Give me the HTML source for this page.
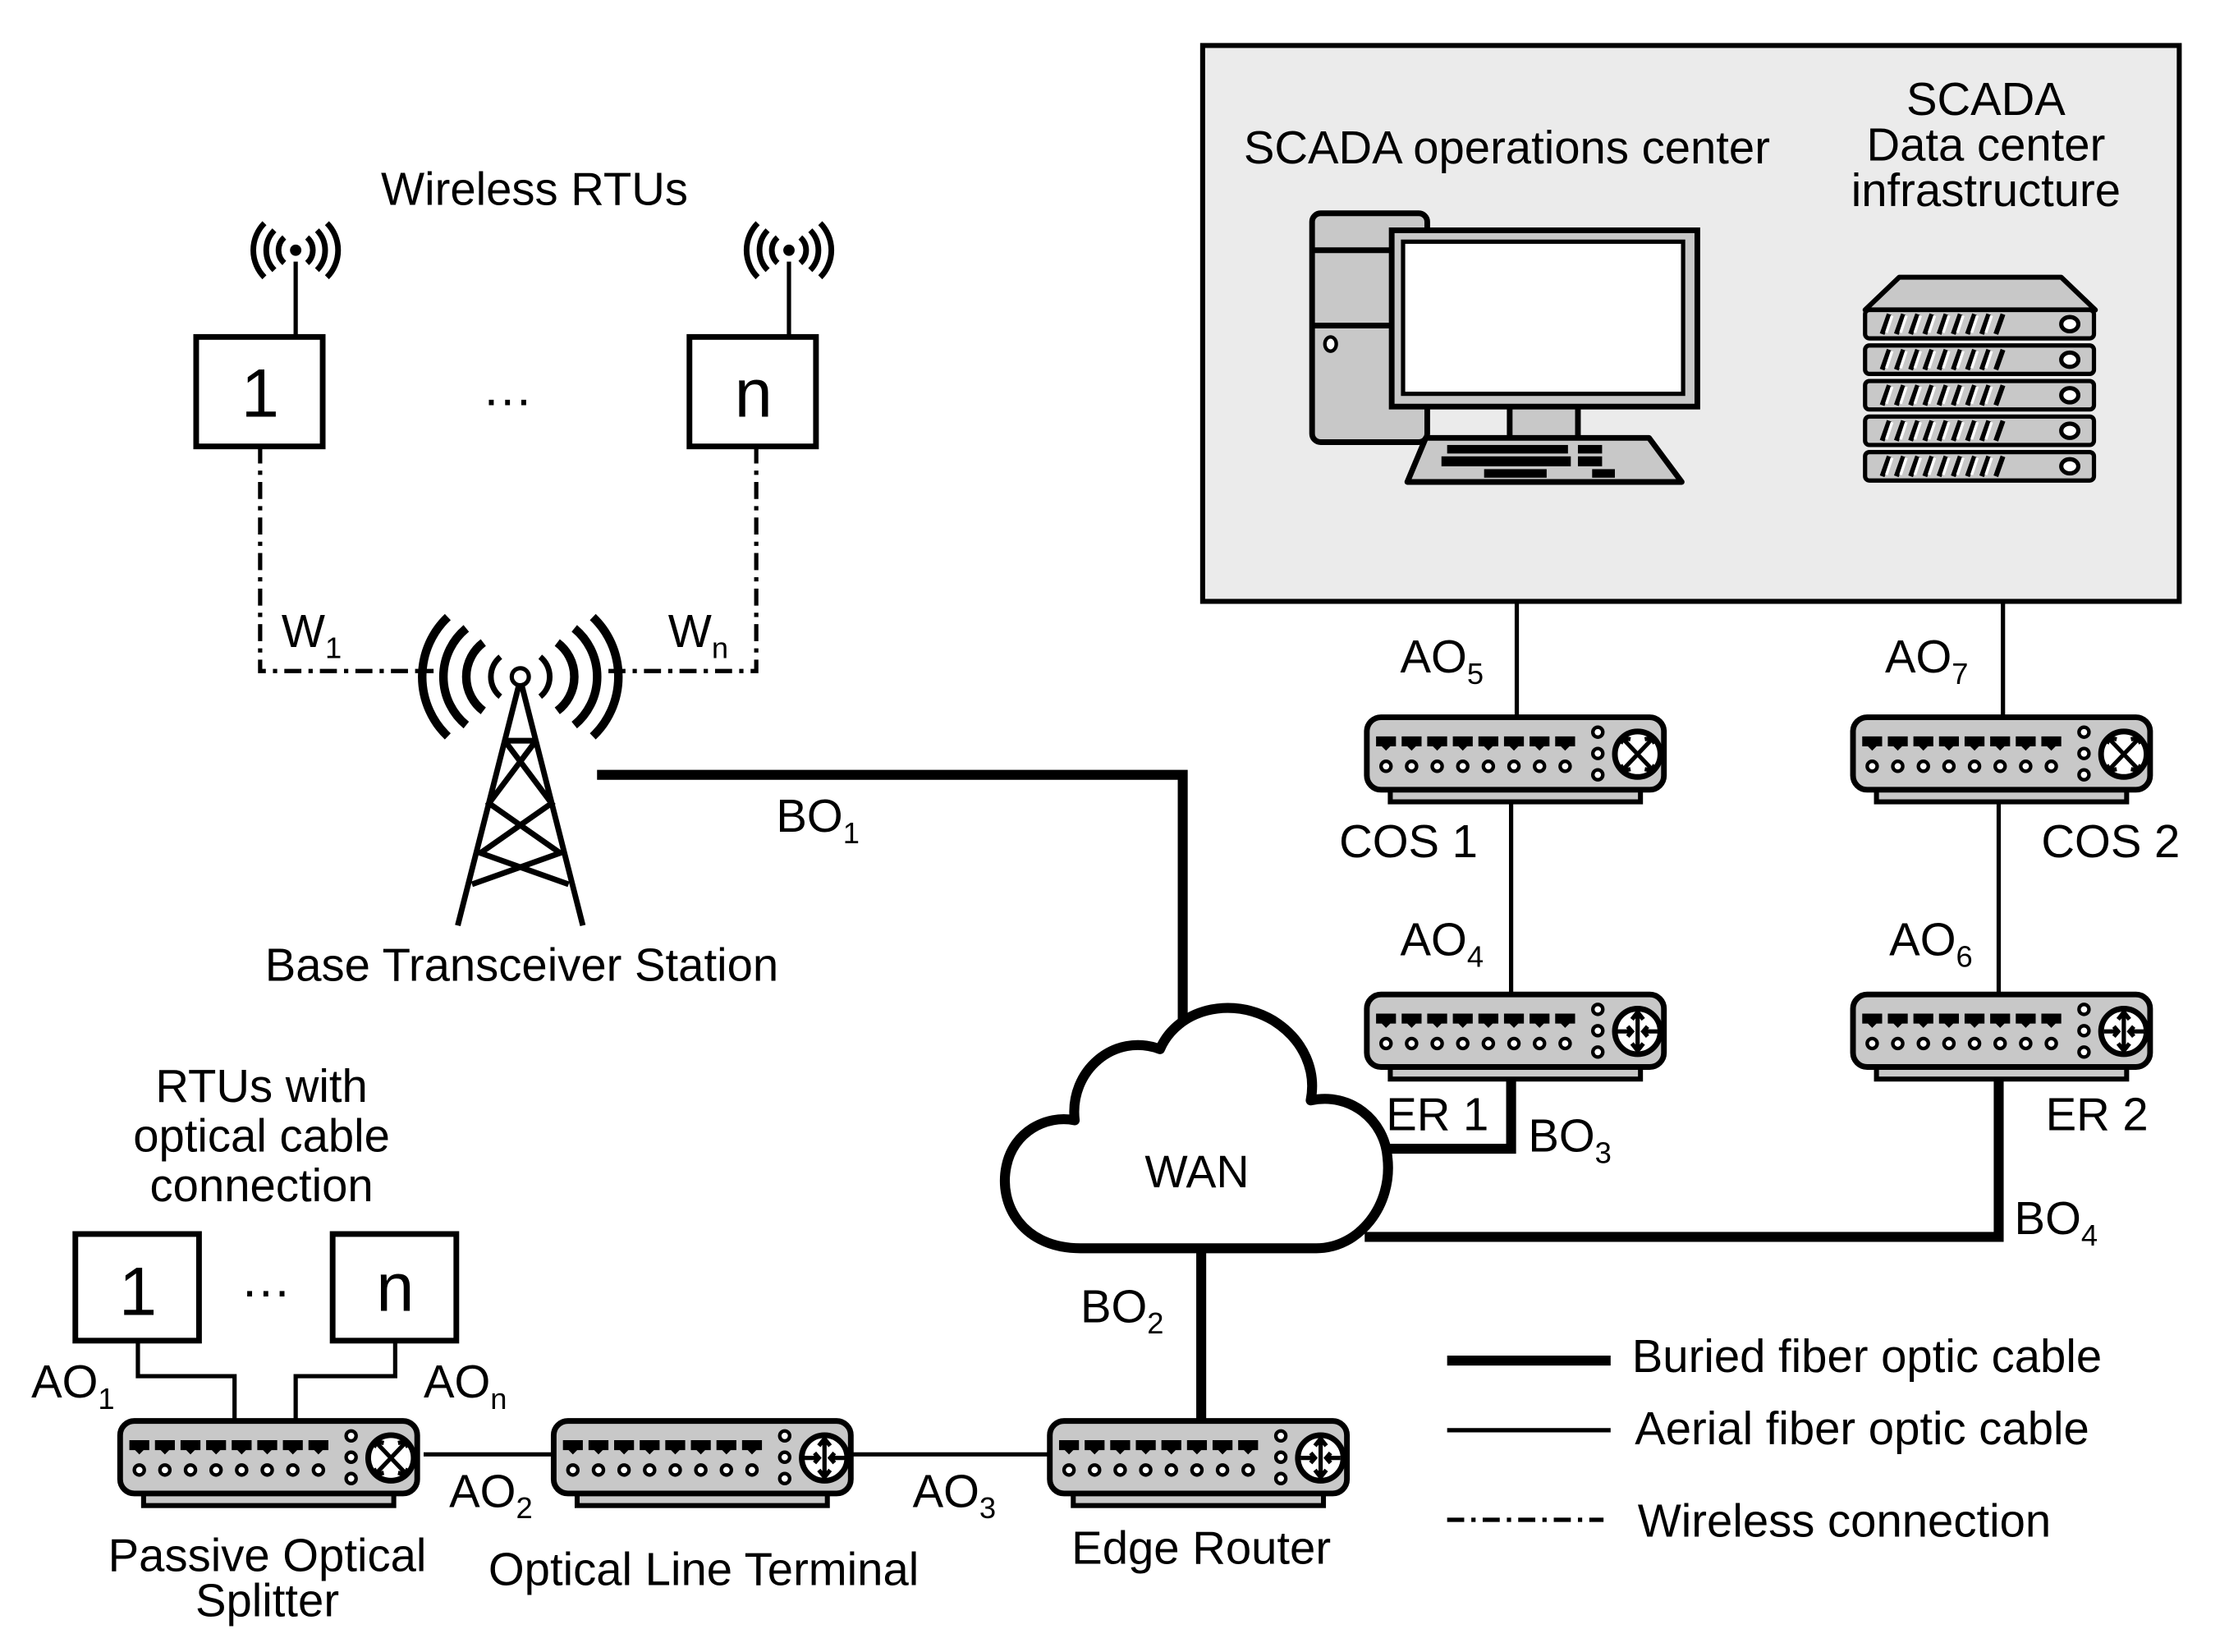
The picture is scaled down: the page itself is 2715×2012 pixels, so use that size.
<!DOCTYPE html>
<html><head><meta charset="utf-8"><style>
html,body{margin:0;padding:0;background:#fff;}
svg{display:block;}
text{font-family:"Liberation Sans",Arial,sans-serif;fill:#000;}
</style></head><body>
<svg width="2715" height="2012" viewBox="0 0 1568 1162" preserveAspectRatio="none" xmlns="http://www.w3.org/2000/svg">
<defs>
<g id="sw">
  <rect x="18" y="50" width="176" height="11" fill="#c8c8c8" stroke="#000" stroke-width="3.5"/>
  <rect x="1.5" y="1.5" width="209" height="51" rx="10" fill="#c8c8c8" stroke="#000" stroke-width="4"/>
  <g fill="#000">
    <path d="M8 15h14v7h-4l-3 3-3-3h-4z"/><path d="M26 15h14v7h-4l-3 3-3-3h-4z"/><path d="M44 15h14v7h-4l-3 3-3-3h-4z"/><path d="M62 15h14v7h-4l-3 3-3-3h-4z"/>
    <path d="M80 15h14v7h-4l-3 3-3-3h-4z"/><path d="M98 15h14v7h-4l-3 3-3-3h-4z"/><path d="M116 15h14v7h-4l-3 3-3-3h-4z"/><path d="M134 15h14v7h-4l-3 3-3-3h-4z"/>
  </g>
  <g fill="#fff" stroke="#000" stroke-width="2.5">
    <circle cx="15" cy="36" r="3.5"/><circle cx="33" cy="36" r="3.5"/><circle cx="51" cy="36" r="3.5"/><circle cx="69" cy="36" r="3.5"/>
    <circle cx="87" cy="36" r="3.5"/><circle cx="105" cy="36" r="3.5"/><circle cx="123" cy="36" r="3.5"/><circle cx="141" cy="36" r="3.5"/>
    <circle cx="164" cy="12" r="3.5"/><circle cx="164" cy="27" r="3.5"/><circle cx="164" cy="42" r="3.5"/>
    <circle cx="192" cy="27.5" r="16" stroke-width="4"/>
  </g>
</g>
<g id="cos">
  <use href="#sw"/>
  <g stroke="#000" stroke-width="3" fill="none"><path d="M182 17l20 21M202 17l-20 21"/><path d="M180 20l2-4 5 1M204 20l-2-4-5 1M180 35l2 4 5-1M204 35l-2 4-5-1"/></g>
</g>
<g id="rt">
  <use href="#sw"/>
  <g stroke="#000" stroke-width="3" fill="none"><path d="M192 15v25M188 19l4-5 4 5M188 36l4 5 4-5M178 27.5h10M206 27.5h-10M185 24l3 3.5-3 3.5M199 24l-3 3.5 3 3.5"/></g>
</g>
<g id="srv">
  <rect x="0" y="0" width="161" height="20" rx="3" fill="#c8c8c8" stroke="#000" stroke-width="3"/>
  <g stroke="#000" stroke-width="3.5"><path d="M12 17l5-14M22 17l5-14M32 17l5-14M42 17l5-14M52 17l5-14M62 17l5-14M72 17l5-14M82 17l5-14M92 17l5-14"/></g>
  <g stroke="#fff" stroke-width="2"><path d="M15 16l4-12M25 16l4-12M35 16l4-12M45 16l4-12M55 16l4-12M65 16l4-12M75 16l4-12M85 16l4-12"/></g>
  <ellipse cx="144" cy="10" rx="6" ry="5" fill="#fff" stroke="#000" stroke-width="3"/>
</g>
<g id="ant">
  <path d="M0 0v-52" stroke="#000" stroke-width="3"/>
  <circle cx="0" cy="-60" r="4" fill="#000"/>
  <g fill="none" stroke="#000" stroke-width="4">
    <path d="M-8 -69a12 12 0 0 0 0 18M8 -69a12 12 0 0 1 0 18M-15 -74a20 20 0 0 0 0 28M15 -74a20 20 0 0 1 0 28M-22 -79a27 27 0 0 0 0 38M22 -79a27 27 0 0 1 0 38"/>
  </g>
</g>
</defs>

<!-- SCADA box -->
<rect x="846" y="32" width="687" height="391" fill="#ebebeb" stroke="#000" stroke-width="3.5"/>
<text x="1060" y="115" font-size="32.5" text-anchor="middle">SCADA operations center</text>
<text x="1397" y="81" font-size="32.5" text-anchor="middle">SCADA</text>
<text x="1397" y="113" font-size="32.5" text-anchor="middle">Data center</text>
<text x="1397" y="145" font-size="32.5" text-anchor="middle">infrastructure</text>
<!-- computer -->
<rect x="923" y="150" width="81" height="161" rx="6" fill="#c8c8c8" stroke="#000" stroke-width="4"/>
<path d="M923 176h60M923 229h60" stroke="#000" stroke-width="4"/>
<ellipse cx="936" cy="242" rx="4" ry="5" fill="#fff" stroke="#000" stroke-width="2.5"/>
<rect x="1062" y="285" width="48" height="26" fill="#c8c8c8" stroke="#000" stroke-width="4"/>
<rect x="979" y="162" width="215" height="124" fill="#c8c8c8" stroke="#000" stroke-width="4"/>
<rect x="987" y="170" width="197" height="107" fill="#fff" stroke="#000" stroke-width="3"/>
<path d="M1003 308h157l23 31h-193z" fill="#c8c8c8" stroke="#000" stroke-width="4" stroke-linejoin="round"/>
<g fill="#000"><rect x="1018" y="313" width="85" height="6"/><rect x="1110" y="313" width="17" height="6"/><rect x="1014" y="321" width="91" height="7"/><rect x="1110" y="321" width="17" height="7"/><rect x="1044" y="330" width="44" height="6"/><rect x="1120" y="330" width="16" height="6"/></g>
<!-- servers -->
<path d="M1312 218l24-23h114l24 23z" fill="#c8c8c8" stroke="#000" stroke-width="3.5" stroke-linejoin="round"/>
<use href="#srv" x="1312" y="218"/>
<use href="#srv" x="1312" y="243"/>
<use href="#srv" x="1312" y="268"/>
<use href="#srv" x="1312" y="293"/>
<use href="#srv" x="1312" y="318"/>

<!-- thin lines -->
<g stroke="#000" stroke-width="3" fill="none">
  <path d="M1067 423v80M1409 423v80M1063 565v133M1406 565v133"/>
  <path d="M298 1023h90M600 1023h137"/>
  <path d="M97 943v25h68v30M278 943v25h-70v30"/>
  <path d="M1018 1006h115"/>
</g>
<!-- thick lines -->
<g stroke="#000" stroke-width="7" fill="none">
  <path d="M420 545h412v188"/>
  <path d="M845 878v120"/>
  <path d="M1063 755v53h-93"/>
  <path d="M1406 755v115h-446"/>
  <path d="M1018 957h115"/>
</g>
<!-- dash-dot -->
<g stroke="#000" stroke-width="3" fill="none" stroke-dasharray="12 5 3 5">
  <path d="M183 314v158h122"/>
  <path d="M532 314v158h-107"/>
  <path d="M1018 1069h110"/>
</g>

<!-- cloud -->
<path d="M760 878c-40 0-58-30-52-58 5-24 28-36 48-32-4-35 28-62 60-50 12-28 50-38 80-20 22 14 30 36 26 56 28-6 52 14 54 40 4 34-20 64-50 64z" fill="#fff" stroke="#000" stroke-width="7" stroke-linejoin="round"/>
<text x="842" y="835" font-size="32" text-anchor="middle">WAN</text>

<!-- devices -->
<use href="#cos" x="960" y="503"/>
<use href="#cos" x="1302" y="503"/>
<use href="#rt" x="960" y="698"/>
<use href="#rt" x="1302" y="698"/>
<use href="#cos" x="83" y="998"/>
<use href="#rt" x="388" y="998"/>
<use href="#rt" x="737" y="998"/>

<!-- wireless RTUs -->
<text x="376" y="144" font-size="32.5" text-anchor="middle">Wireless RTUs</text>
<use href="#ant" x="208" y="236"/>
<use href="#ant" x="555" y="236"/>
<rect x="138" y="237" width="89" height="77" fill="#fff" stroke="#000" stroke-width="4"/>
<rect x="485" y="237" width="89" height="77" fill="#fff" stroke="#000" stroke-width="4"/>
<text x="183" y="293" font-size="48" text-anchor="middle">1</text>
<text x="530" y="293" font-size="48" text-anchor="middle">n</text>
<text x="357" y="285" font-size="36" text-anchor="middle">…</text>
<text x="198" y="455" font-size="32.5">W<tspan font-size="21" dy="8">1</tspan></text>
<text x="470" y="455" font-size="32.5">W<tspan font-size="21" dy="8">n</tspan></text>

<!-- tower -->
<g stroke="#000" stroke-width="4" fill="none">
  <path d="M366 478L322 651M366 478L410 651M355 521L388 565L338 600L400 622M377 521L344 565L394 600L332 622M355 521h22"/>
  <path d="M352 462a18 18 0 0 0 0 28M380 462a18 18 0 0 1 0 28"/>
</g>
<g stroke="#000" stroke-width="6" fill="none">
  <path d="M340 452a30 30 0 0 0 0 48M392 452a30 30 0 0 1 0 48M328 442a44 44 0 0 0 0 68M404 442a44 44 0 0 1 0 68M315 434a58 58 0 0 0 0 84M417 434a58 58 0 0 1 0 84"/>
</g>
<circle cx="366" cy="476" r="6" fill="#fff" stroke="#000" stroke-width="3"/>
<text x="367" y="690" font-size="32.5" text-anchor="middle">Base Transceiver Station</text>

<!-- optical RTUs -->
<text x="184" y="775" font-size="32.5" text-anchor="middle">RTUs with</text>
<text x="184" y="810" font-size="32.5" text-anchor="middle">optical cable</text>
<text x="184" y="845" font-size="32.5" text-anchor="middle">connection</text>
<rect x="53" y="868" width="87" height="75" fill="#fff" stroke="#000" stroke-width="4"/>
<rect x="234" y="868" width="87" height="75" fill="#fff" stroke="#000" stroke-width="4"/>
<text x="97" y="925" font-size="48" text-anchor="middle">1</text>
<text x="278" y="922" font-size="48" text-anchor="middle">n</text>
<text x="187" y="912" font-size="36" text-anchor="middle">…</text>

<!-- labels -->
<g font-size="32.5">
<text x="22" y="983">AO<tspan font-size="21" dy="8">1</tspan></text>
<text x="298" y="983">AO<tspan font-size="21" dy="8">n</tspan></text>
<text x="316" y="1060">AO<tspan font-size="21" dy="8">2</tspan></text>
<text x="642" y="1060">AO<tspan font-size="21" dy="8">3</tspan></text>
<text x="760" y="930">BO<tspan font-size="21" dy="8">2</tspan></text>
<text x="546" y="585">BO<tspan font-size="21" dy="8">1</tspan></text>
<text x="985" y="473">AO<tspan font-size="21" dy="8">5</tspan></text>
<text x="1326" y="473">AO<tspan font-size="21" dy="8">7</tspan></text>
<text x="942" y="603">COS 1</text>
<text x="1436" y="603">COS 2</text>
<text x="985" y="672">AO<tspan font-size="21" dy="8">4</tspan></text>
<text x="1329" y="672">AO<tspan font-size="21" dy="8">6</tspan></text>
<text x="975" y="795">ER 1</text>
<text x="1439" y="795">ER 2</text>
<text x="1075" y="810">BO<tspan font-size="21" dy="8">3</tspan></text>
<text x="1417" y="868">BO<tspan font-size="21" dy="8">4</tspan></text>
<text x="188" y="1105" text-anchor="middle">Passive Optical</text>
<text x="188" y="1137" text-anchor="middle">Splitter</text>
<text x="495" y="1115" text-anchor="middle">Optical Line Terminal</text>
<text x="845" y="1100" text-anchor="middle">Edge Router</text>
<text x="1148" y="965">Buried fiber optic cable</text>
<text x="1150" y="1016">Aerial fiber optic cable</text>
<text x="1152" y="1081">Wireless connection</text>
</g>
</svg>
</body></html>
